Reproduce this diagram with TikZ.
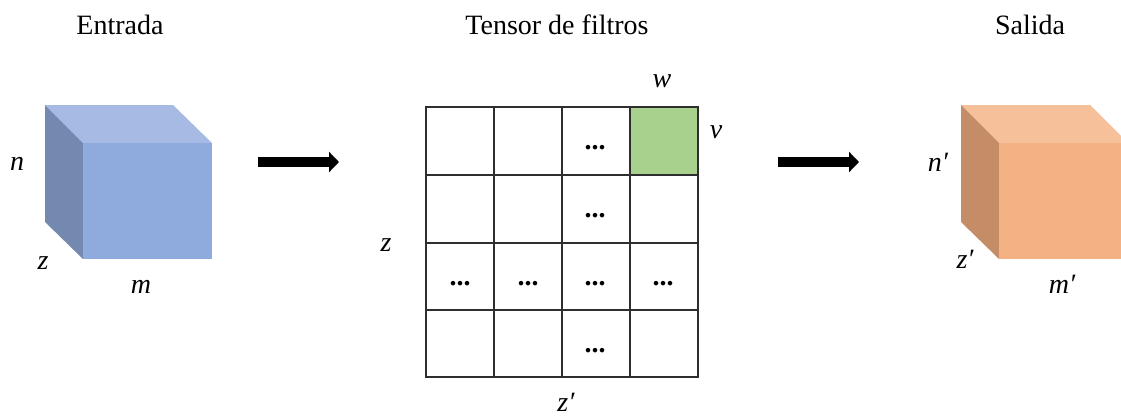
\documentclass[tikz,border=0pt]{standalone}
\usepackage{fontspec}
\setmainfont{Liberation Serif}
\usetikzlibrary{arrows.meta}
\definecolor{bluetop}{HTML}{A6BAE3}
\definecolor{bluefront}{HTML}{8FAADC}
\definecolor{blueside}{HTML}{7489B0}
\definecolor{orgtop}{HTML}{F6C09A}
\definecolor{orgfront}{HTML}{F4B183}
\definecolor{orgside}{HTML}{C48D67}
\definecolor{cellgreen}{HTML}{A9D18E}
\definecolor{gridline}{HTML}{2E2E2E}
\begin{document}
\begin{tikzpicture}[x=1pt,y=-1pt,
  title/.style={font=\fontsize{28}{32}\selectfont, anchor=base, inner sep=0pt},
  lbl/.style={font=\fontsize{28}{32}\selectfont\itshape, anchor=base, inner sep=0pt},
  dots/.style={font=\fontsize{28}{32}\selectfont\bfseries, anchor=base, inner sep=0pt},
  bigarrow/.style={line width=10pt, -{Triangle[length=10pt,width=20pt]}},
  gridstyle/.style={draw=gridline, line width=1.4pt}]
\useasboundingbox (0,0) rectangle (1121,418);
\clip (0,0) rectangle (1121,418);

% titles
\node[title] (tin) at (120,34) {Entrada};
\node[title] (tfil) at (557,34) {Tensor de filtros};
\node[title] (tout) at (1030,34) {Salida};

% input cube
\fill[bluetop] (45,105) -- (173,105) -- (212,143) -- (83,143) -- cycle;
\fill[blueside] (45,105) -- (83,143) -- (83,259) -- (45,222) -- cycle;
\fill[bluefront] (83,143) rectangle (212,259);
\node[lbl] (ln) at (17,170) {n};
\node[lbl] (lz) at (43,269) {z};
\node[lbl] (lm) at (141,293) {m};

% output cube
\fill[orgtop] (961,105) -- (1090,105) -- (1128,143) -- (999,143) -- cycle;
\fill[orgside] (961,105) -- (999,143) -- (999,259) -- (961,222) -- cycle;
\fill[orgfront] (999,143) rectangle (1128,259);
\node[lbl] (lnp) at (938,171) {n′};
\node[lbl] (lzp) at (965,268) {z′};
\node[lbl] (lmp) at (1062,293) {m′};

% arrows
\coordinate (a1s) at (258,162);
\coordinate (a1e) at (339,162);
\coordinate (a2s) at (778,162);
\coordinate (a2e) at (859,162);
\draw[bigarrow] (a1s) -- (a1e);
\draw[bigarrow] (a2s) -- (a2e);

% filter tensor grid
\fill[cellgreen] (630,107) rectangle (698,175);
\draw[gridstyle] (426,107) rectangle (698,377);
\foreach \x in {494,562,630} \draw[gridstyle] (\x,107) -- (\x,377);
\foreach \y in {175,243,310} \draw[gridstyle] (426,\y) -- (698,\y);

\node[dots] (d13) at (595,149) {...};
\node[dots] (d23) at (595,217) {...};
\node[dots] (d31) at (460,285) {...};
\node[dots] (d32) at (528,285) {...};
\node[dots] (d33) at (595,285) {...};
\node[dots] (d34) at (663,285) {...};
\node[dots] (d43) at (595,352) {...};

\node[lbl] (lw) at (662,87) {w};
\node[lbl] (lv) at (716,138) {v};
\node[lbl] (lzg) at (386,251) {z};
\node[lbl] (lzpg) at (566,411) {z′};
\end{tikzpicture}
\end{document}
